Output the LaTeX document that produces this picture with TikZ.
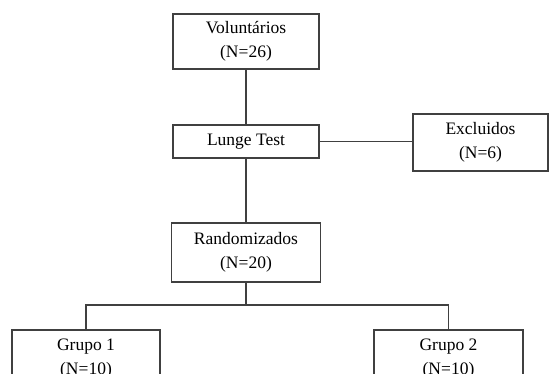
\documentclass[tikz,border=0pt]{standalone}
\usepackage{fontspec}
\setmainfont{Liberation Serif}
\begin{document}
\begin{tikzpicture}[x=1pt,y=1pt]
        \tikzstyle{box}=[rectangle,draw=black!75,line width=1.2pt,fill=white,align=center,
                         font=\fontsize{17.5}{24}\selectfont,inner sep=2pt]
        \tikzstyle{link}=[draw=black!75,line width=1.2pt]
        \useasboundingbox (0,0) rectangle (550,-374);
       \begin{scope}
         \node [box,minimum width=146,minimum height=55] (vol) at (246,-41.5) {Voluntários\\(N=26)};
         \node [box,minimum width=146,minimum height=33] (lunge) at (246,-141.5) {Lunge Test};
         \node [box,minimum width=135,minimum height=57] (excl) at (480.5,-142.5) {Excluidos\\(N=6)};
         \node [box,minimum width=149,minimum height=59] (rand) at (246,-252.5) {Randomizados\\(N=20)};
         \node [box,minimum width=148,minimum height=57] (g1) at (86,-358.5) {Grupo 1\\(N=10)};
         \node [box,minimum width=149,minimum height=57] (g2) at (448.5,-358.5) {Grupo 2\\(N=10)};
         \coordinate (split) at (246,-305);

         \path[link] (vol) -- (lunge);
         \path[link] (lunge) -- (lunge -| excl.west);
         \path[link] (lunge) -- (rand);
         \path[link] (rand) -- (split);
         \path[link] (split) -| (g1.north);
         \path[link] (split) -| (g2.north);

        \end{scope}
      \end{tikzpicture}
\end{document}
